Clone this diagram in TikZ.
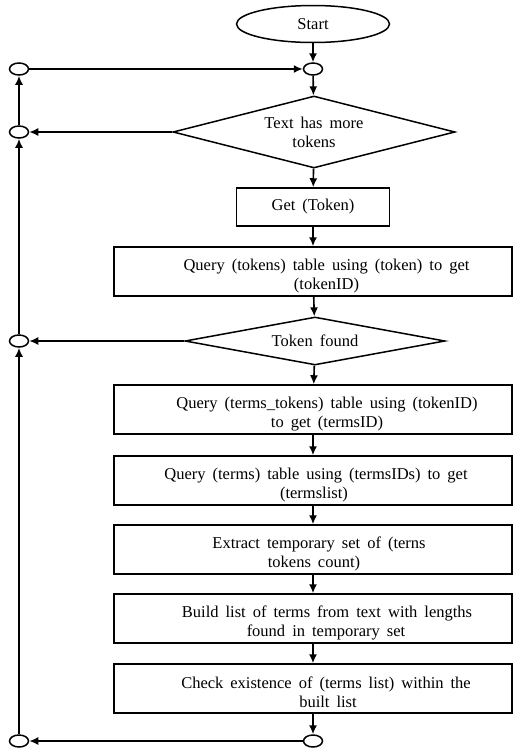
\documentclass[tikz,border=0pt]{standalone}
\usepackage{fontspec}
\setmainfont[WordSpace={1.7,0,0}]{Liberation Serif}
\usetikzlibrary{shapes.geometric,arrows.meta}
\newcommand{\sh}[1]{\hspace*{#1pt}}
\newcommand{\fl}[1]{\rule{0pt}{20pt}\hspace*{#1pt}}
\begin{document}
\begin{tikzpicture}[x=1pt,y=-1pt,
  every node/.style={font=\fontsize{16.5}{19}\selectfont, align=center},
  box/.style={draw, line width=1.5pt, rectangle, inner sep=2pt, minimum width=398pt, minimum height=49pt},
  dec/.style={draw, line width=1.5pt, diamond, inner sep=0pt},
  junc/.style={draw, line width=1.5pt, ellipse, inner sep=0pt, minimum width=19pt, minimum height=12pt},
  arr/.style={line width=1.6pt, -{Latex[length=9pt,width=8pt]}}]
\useasboundingbox (0,0) rectangle (513,750);
\node[draw, line width=1.5pt, ellipse, inner sep=0pt, minimum width=153pt, minimum height=37pt] (start) at (313,24) {Start};
\node[junc] (j1) at (313,69) {};
\node[junc] (l1) at (19,69) {};
\node[dec, aspect=3.9, minimum width=282pt, minimum height=72pt] (d1) at (314,132) {Text has more\\tokens};
\node[junc] (l2) at (19,132) {};
\node[box, minimum width=153pt, minimum height=38pt] (get) at (313,207) {Get (Token)};
\node[box] (q1) at (313,271.5) {\fl{27}Query (tokens) table using (token) to get\\\sh{27}(tokenID)};
\node[dec, aspect=5.4, minimum width=260pt, minimum height=48pt] (d2) at (315,341) {Token found};
\node[junc] (l3) at (19,341) {};
\node[box] (q2) at (313,409.5) {\fl{28}Query (terms\_tokens) table using (tokenID)\\\sh{28}to get (termsID)};
\node[box] (q3) at (313,480.5) {\fl{6}Query (terms) table using (termsIDs) to get\\\sh{2}(termslist)};
\node[box] (ex) at (313,549.5) {\fl{12}Extract temporary set of (terns\\\sh{2}tokens count)};
\node[box] (bu) at (313,618.5) {\fl{28}Build list of terms from text with lengths\\\sh{26}found in temporary set};
\node[box] (ch) at (313,688.5) {\fl{26}Check existence of (terms list) within the\\\sh{30}built list};
\node[junc] (j2) at (313,741) {};
\node[junc] (l4) at (19,741) {};
\draw[arr] (start) -- (j1);
\draw[arr] (j1) -- (d1);
\draw[arr] (d1) -- (get);
\draw[arr] (get) -- (q1);
\draw[arr] (q1) -- (d2);
\draw[arr] (d2) -- (q2);
\draw[arr] (q2) -- (q3);
\draw[arr] (q3) -- (ex);
\draw[arr] (ex) -- (bu);
\draw[arr] (bu) -- (ch);
\draw[arr] (ch) -- (j2);
\draw[arr] (j2) -- (l4);
\draw[arr] (l4) -- (l3);
\draw[arr] (l3) -- (l2);
\draw[arr] (l2) -- (l1);
\draw[arr] (l1) -- (j1);
\draw[arr] (d1.west) -- (l2);
\draw[arr] (d2.west) -- (l3);
\end{tikzpicture}
\end{document}
